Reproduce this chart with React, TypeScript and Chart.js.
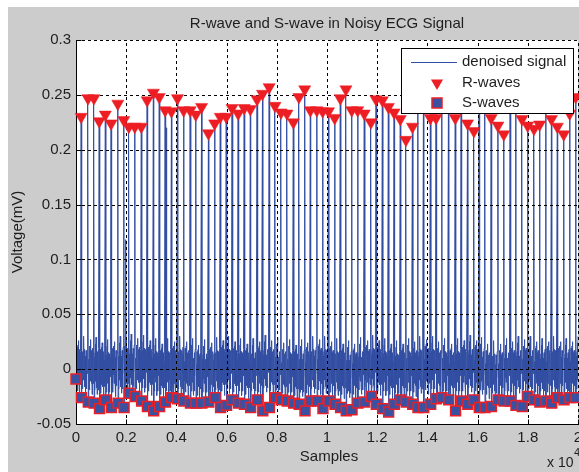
import React, { useEffect, useRef } from 'react';
import { Chart, registerables } from 'chart.js';

Chart.register(...registerables);

// ---------- data ----------
const xTickLabels = ['0', '0.2', '0.4', '0.6', '0.8', '1', '1.2', '1.4', '1.6', '1.8', '2'];
const yTickLabels = ['-0.05', '0', '0.05', '0.1', '0.15', '0.2', '0.25', '0.3'];

// R-wave peaks (sample index, mV)
const rSamples = [
  205, 478, 713, 925, 1169, 1398, 1665, 1904, 2104, 2343,
  2602, 2834, 3083, 3317, 3551, 3803, 4042, 4288, 4548, 4772,
  5003, 5277, 5524, 5748, 5985, 6217, 6461, 6701, 6947, 7213,
  7430, 7696, 7928, 8167, 8406, 8658, 8882, 9112, 9337, 9595,
  9827, 10060, 10306, 10530, 10755, 10985, 11223, 11485, 11751, 11953,
  12205, 12444, 12673, 12920, 13145, 13403, 13613, 13843, 14119, 14343,
  14573, 14839, 15110, 15344, 15598, 15854, 16057, 16284, 16540, 16809,
  17043, 17295, 17517, 17768, 17993, 18247, 18469, 18713, 18942, 19177,
  19431, 19668, 19907,
];
const rValues = [
  0.230, 0.247, 0.247, 0.226, 0.232, 0.224, 0.242, 0.227, 0.221, 0.221,
  0.221, 0.245, 0.252, 0.248, 0.236, 0.235, 0.247, 0.236, 0.236, 0.232,
  0.239, 0.215, 0.224, 0.230, 0.230, 0.238, 0.233, 0.238, 0.237, 0.246,
  0.251, 0.257, 0.240, 0.234, 0.233, 0.225, 0.248, 0.255, 0.236, 0.236,
  0.235, 0.235, 0.229, 0.247, 0.255, 0.236, 0.236, 0.233, 0.225, 0.246,
  0.245, 0.239, 0.234, 0.228, 0.209, 0.221, 0.245, 0.246, 0.229, 0.229,
  0.246, 0.245, 0.229, 0.246, 0.224, 0.217, 0.245, 0.246, 0.229, 0.222,
  0.214, 0.245, 0.246, 0.228, 0.222, 0.219, 0.223, 0.242, 0.228, 0.221,
  0.214, 0.233, 0.248,
];

// S-wave troughs (sample index, mV)
const sSamples = [
  0,
  217, 490, 725, 937, 1181, 1410, 1677, 1916, 2116, 2355,
  2614, 2846, 3095, 3329, 3563, 3815, 4054, 4300, 4560, 4784,
  5015, 5289, 5536, 5760, 5997, 6229, 6473, 6713, 6959, 7225,
  7442, 7708, 7940, 8179, 8418, 8670, 8894, 9124, 9349, 9607,
  9839, 10072, 10318, 10542, 10767, 10997, 11235, 11497, 11763, 11965,
  12217, 12456, 12685, 12932, 13157, 13415, 13625, 13855, 14131, 14355,
  14585, 14851, 15122, 15356, 15610, 15866, 16069, 16296, 16552, 16821,
  17055, 17307, 17529, 17780, 18005, 18259, 18481, 18725, 18954, 19189,
  19443, 19680, 19919,
];
const sValues = [
  -0.009,
  -0.026, -0.030, -0.031, -0.036, -0.028, -0.035, -0.031, -0.035, -0.022, -0.025,
  -0.029, -0.034, -0.038, -0.034, -0.030, -0.026, -0.027, -0.029, -0.031, -0.031,
  -0.031, -0.030, -0.026, -0.035, -0.033, -0.028, -0.031, -0.032, -0.035, -0.028,
  -0.038, -0.035, -0.026, -0.028, -0.029, -0.031, -0.032, -0.038, -0.029, -0.029,
  -0.036, -0.029, -0.032, -0.035, -0.038, -0.037, -0.031, -0.030, -0.025, -0.032,
  -0.036, -0.039, -0.032, -0.028, -0.030, -0.032, -0.035, -0.035, -0.032, -0.027,
  -0.026, -0.028, -0.038, -0.029, -0.032, -0.028, -0.035, -0.035, -0.034, -0.028,
  -0.029, -0.029, -0.033, -0.034, -0.025, -0.028, -0.030, -0.029, -0.031, -0.026,
  -0.028, -0.026, -0.026,
];

// noisy baseline between beats (offset within a ~240-sample beat, mV)
const beatRef = 240;
const noiseOffsets = [26, 36, 46, 56, 66, 76, 86, 96, 106, 116, 126, 136, 146, 156, 166, 176, 186, 196, 206, 216];
const noiseShapeA = [-0.014, 0.010, -0.020, 0.014, -0.008, 0.022, -0.012, 0.028, -0.004, 0.016, -0.018, 0.010, -0.024, 0.006, -0.010, 0.015, -0.020, 0.012, -0.006, 0.018];
const noiseShapeB = [-0.018, 0.006, -0.012, 0.018, -0.022, 0.012, -0.006, 0.020, -0.014, 0.024, -0.008, 0.014, -0.016, 0.010, -0.026, 0.016, -0.010, 0.008, -0.016, 0.014];
const baselineWander = [
  0.002, 0.003, 0.001, 0.000, -0.001, 0.001, 0.002, 0.003, 0.004, 0.004,
  0.003, 0.002, 0.000, -0.001, 0.000, 0.001, 0.002, 0.001, 0.000, -0.002,
  -0.001, 0.000, 0.001, 0.002, 0.002, 0.001, 0.000, -0.001, 0.000, 0.001,
  0.003, 0.002, 0.001, 0.000, -0.001, -0.002, -0.001, 0.000, 0.002, 0.003,
  0.002, 0.001, 0.000, -0.001, -0.002, -0.001, 0.001, 0.002, 0.003, 0.002,
  0.000, -0.001, -0.002, -0.001, 0.000, 0.001, 0.002, 0.003, 0.002, 0.001,
  0.000, -0.001, 0.000, 0.002, 0.003, 0.002, 0.001, -0.001, -0.002, -0.001,
  0.000, 0.001, 0.002, 0.003, 0.002, 0.001, 0.000, 0.001, 0.002, 0.001,
  0.000, 0.001, 0.002,
];
const extraSpikeSamples = [1990, 3610];
const extraSpikeValues = [0.118, 0.220];

// ---------- styling ----------
const FONT = '"Liberation Sans", Arial, Helvetica, sans-serif';
const FIG_BG = '#cccccc';
const TEXT = '#1e1e1e';
const LINE_BLUE = 'rgb(50,78,162)';
const R_RED = 'rgb(236,30,36)';
const S_FILL = 'rgb(58,80,160)';
const S_EDGE = 'rgb(232,32,40)';

function buildSignal() {
  const pts: { x: number; y: number }[] = [];
  pts.push({ x: sSamples[0], y: sValues[0] });
  const firstR = rSamples[0];
  for (let j = 0; j < noiseOffsets.length; j++) {
    const x = sSamples[0] + (noiseOffsets[j] / beatRef) * (firstR - sSamples[0]);
    if (x < firstR - 8) pts.push({ x, y: noiseShapeB[j] + baselineWander[0] });
  }
  for (let k = 0; k < rSamples.length; k++) {
    const rx = rSamples[k];
    const next = k + 1 < rSamples.length ? rSamples[k + 1] : rx + beatRef;
    pts.push({ x: rx, y: rValues[k] });
    pts.push({ x: sSamples[k + 1], y: sValues[k + 1] });
    const shape = k % 2 === 0 ? noiseShapeA : noiseShapeB;
    for (let j = 0; j < noiseOffsets.length; j++) {
      const x = rx + (noiseOffsets[j] / beatRef) * (next - rx);
      pts.push({ x, y: shape[j] + baselineWander[k] });
    }
  }
  for (let i = 0; i < extraSpikeSamples.length; i++) {
    pts.push({ x: extraSpikeSamples[i], y: extraSpikeValues[i] });
  }
  pts.sort((a, b) => a.x - b.x);
  return pts;
}

const decor = {
  id: 'decor',
  beforeDraw(chart: any) {
    const { ctx, chartArea: a, width, height } = chart;
    ctx.save();
    ctx.fillStyle = FIG_BG;
    ctx.fillRect(0, 0, width, height);
    ctx.fillStyle = '#ffffff';
    ctx.fillRect(a.left, a.top, a.right - a.left, a.bottom - a.top);
    ctx.restore();
  },
  afterDatasetDraw(chart: any, args: any) {
    if (args.index !== 0) return;
    const { ctx, chartArea: a, scales } = chart;
    const xs = scales.x;
    const ys = scales.y;
    ctx.save();
    ctx.strokeStyle = '#000000';
    ctx.lineWidth = 1;
    ctx.setLineDash([3, 3]);
    xs.ticks.forEach((t: any) => {
      const px = Math.round(xs.getPixelForValue(t.value)) + 0.5;
      if (px < a.left + 2) return;
      ctx.beginPath();
      ctx.moveTo(px, a.bottom);
      ctx.lineTo(px, a.top);
      ctx.stroke();
    });
    ys.ticks.forEach((t: any) => {
      const py = Math.round(ys.getPixelForValue(t.value)) + 0.5;
      if (py > a.bottom - 2) return;
      ctx.beginPath();
      ctx.moveTo(a.left, py);
      ctx.lineTo(a.right, py);
      ctx.stroke();
    });
    ctx.setLineDash([]);
    const L = Math.round(a.left) + 0.5;
    const B = Math.round(a.bottom) + 0.5;
    ctx.beginPath();
    ctx.moveTo(L, Math.round(a.top));
    ctx.lineTo(L, B);
    ctx.lineTo(a.right + 1, B);
    ctx.stroke();
    // inward ticks
    const tl = 5;
    xs.ticks.forEach((t: any) => {
      const px = Math.round(xs.getPixelForValue(t.value)) + 0.5;
      ctx.beginPath();
      ctx.moveTo(px, B);
      ctx.lineTo(px, B - tl);
      ctx.stroke();
    });
    ys.ticks.forEach((t: any) => {
      const py = Math.round(ys.getPixelForValue(t.value)) + 0.5;
      ctx.beginPath();
      ctx.moveTo(L, py);
      ctx.lineTo(L + tl, py);
      ctx.stroke();
    });
    ctx.restore();
  },
  afterDraw(chart: any) {
    const { ctx, chartArea: a } = chart;
    ctx.save();
    // title and axis labels
    ctx.fillStyle = TEXT;
    ctx.font = `15px ${FONT}`;
    ctx.textAlign = 'center';
    ctx.textBaseline = 'middle';
    ctx.fillText('R-wave and S-wave in Noisy ECG Signal', (a.left + a.right) / 2, 17);
    ctx.fillText('Samples', 321, 450);
    ctx.save();
    ctx.translate(10, (a.top + a.bottom) / 2);
    ctx.rotate(-Math.PI / 2);
    ctx.fillText('Voltage(mV)', 0, 0);
    ctx.restore();
    ctx.textAlign = 'left';
    ctx.font = `14px ${FONT}`;
    ctx.fillText('x 10', 539, 456);
    ctx.font = `11px ${FONT}`;
    ctx.fillText('4', 566, 446);

    // legend
    const lx = 393.5, ly = 41.5, lw = 172, lh = 65;
    ctx.fillStyle = '#ffffff';
    ctx.fillRect(lx, ly, lw, lh);
    ctx.strokeStyle = '#000000';
    ctx.lineWidth = 1;
    ctx.strokeRect(lx, ly, lw, lh);
    // line sample
    ctx.strokeStyle = LINE_BLUE;
    ctx.beginPath();
    ctx.moveTo(403, 55.5);
    ctx.lineTo(449, 55.5);
    ctx.stroke();
    // triangle
    const tx = 429, ty = 76, r = 7;
    ctx.fillStyle = R_RED;
    ctx.beginPath();
    ctx.moveTo(tx - r * 0.866, ty - r * 0.5);
    ctx.lineTo(tx + r * 0.866, ty - r * 0.5);
    ctx.lineTo(tx, ty + r);
    ctx.closePath();
    ctx.fill();
    // square
    ctx.fillStyle = S_FILL;
    ctx.strokeStyle = S_EDGE;
    ctx.lineWidth = 1.5;
    ctx.fillRect(424, 91, 10, 10);
    ctx.strokeRect(424, 91, 10, 10);
    // texts
    ctx.fillStyle = TEXT;
    ctx.font = `15px ${FONT}`;
    ctx.textAlign = 'left';
    ctx.textBaseline = 'middle';
    ctx.fillText('denoised signal', 454, 55);
    ctx.fillText('R-waves', 454, 76);
    ctx.fillText('S-waves', 454, 96);
    ctx.restore();
  },
};

export default function App() {
  const ref = useRef<HTMLCanvasElement | null>(null);
  useEffect(() => {
    if (!ref.current) return;
    const signal = buildSignal();
    const rPts = rSamples.map((x, i) => ({ x, y: rValues[i] }));
    const sPts = sSamples.map((x, i) => ({ x, y: sValues[i] }));
    const chart = new Chart(ref.current, {
      type: 'scatter',
      data: {
        datasets: [
          {
            label: 'denoised signal',
            data: signal,
            showLine: true,
            pointRadius: 0,
            borderColor: LINE_BLUE,
            borderWidth: 1,
            order: 3,
          } as any,
          {
            label: 'R-waves',
            data: rPts,
            pointStyle: 'triangle',
            rotation: 180,
            pointRadius: 7,
            backgroundColor: R_RED,
            borderColor: R_RED,
            borderWidth: 0.5,
            order: 2,
            clip: false,
          } as any,
          {
            label: 'S-waves',
            data: sPts,
            pointStyle: 'rect',
            pointRadius: 7,
            backgroundColor: S_FILL,
            borderColor: S_EDGE,
            borderWidth: 1.5,
            order: 1,
            clip: false,
          } as any,
        ],
      },
      options: {
        animation: false,
        responsive: false,
        devicePixelRatio: 1,
        layout: { padding: { left: 0, top: 33, right: 50, bottom: 0 } },
        plugins: {
          legend: { display: false },
          tooltip: { enabled: false },
          title: { display: false },
        },
        events: [],
        scales: {
          x: {
            type: 'linear',
            min: 0,
            max: 20000,
            grid: { display: false, drawTicks: false },
            border: { display: false },
            ticks: {
              stepSize: 2000,
              autoSkip: false,
              maxRotation: 0,
              padding: 5,
              color: TEXT,
              font: { family: FONT, size: 15 },
              callback: (_v: any, i: number) => xTickLabels[i],
            },
            afterFit: (s: any) => {
              s.height = 48;
            },
          },
          y: {
            type: 'linear',
            min: -0.05,
            max: 0.3,
            grid: { display: false, drawTicks: false },
            border: { display: false },
            ticks: {
              stepSize: 0.05,
              autoSkip: false,
              padding: 5,
              color: TEXT,
              font: { family: FONT, size: 15 },
              callback: (_v: any, i: number) => yTickLabels[i],
            },
            afterFit: (s: any) => {
              s.width = 68;
            },
          },
        },
      } as any,
      plugins: [decor],
    });
    return () => chart.destroy();
  }, []);
  return (
    <div style={{ position: 'fixed', left: 0, top: 0, right: 0, bottom: 0, overflow: 'hidden', background: '#ffffff' }}>
      <canvas
        ref={ref}
        width={620}
        height={465}
        style={{ position: 'absolute', left: 8, top: 7, width: 620, height: 465 }}
      />
    </div>
  );
}
